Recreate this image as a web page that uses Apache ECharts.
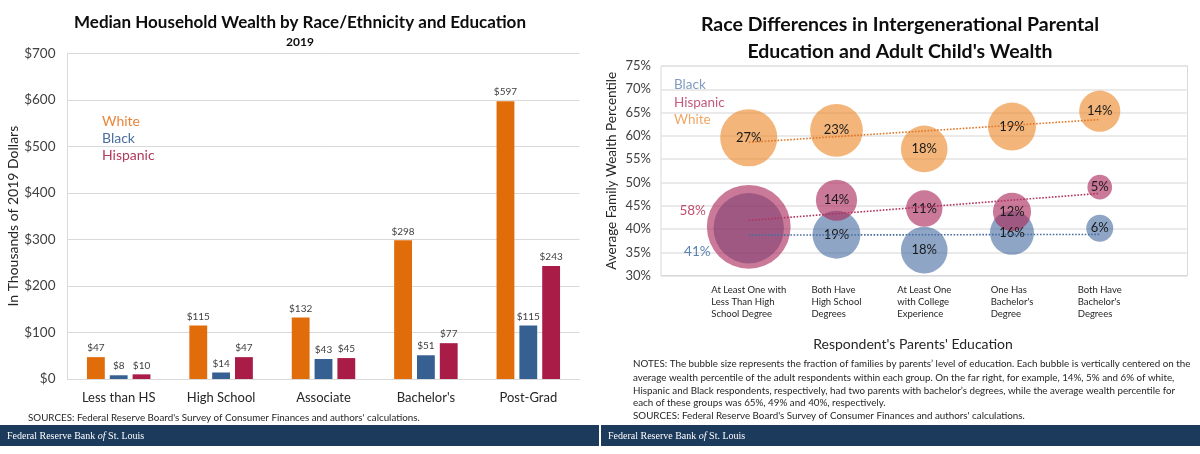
<!DOCTYPE html>
<html>
<head>
<meta charset="utf-8">
<title>Household wealth by race and education</title>
<script src="https://cdn.jsdelivr.net/npm/echarts@6/dist/echarts.min.js"></script>
<style>
  html, body { margin: 0; padding: 0; background: #fff; }
  #chart { width: 1200px; height: 454px; }
</style>
</head>
<body>
<div id="chart"></div>
<script>
// left panel: median household wealth, thousands of 2019 dollars
const eduLevels = ['Less than HS', 'High School', 'Associate', "Bachelor's", 'Post-Grad']
const wealthWhite = [47, 115, 132, 298, 597]
const wealthBlack = [8, 14, 43, 51, 115]
const wealthHispanic = [10, 47, 45, 77, 243]

// right panel: respondent's parents' education
const parentEdu = [
  'At Least One with\nLess Than High\nSchool Degree',
  'Both Have\nHigh School\nDegrees',
  'At Least One\nwith College\nExperience',
  "One Has\nBachelor's\nDegree",
  "Both Have\nBachelor's\nDegrees"
]
// average family wealth percentile (bubble centre)
const pctlBlack = [40.2, 38.8, 35.5, 39.2, 40.2]
const pctlHispanic = [40.5, 46.2, 44.4, 43.7, 49.0]
const pctlWhite = [59.6, 61.2, 57.2, 62.0, 65.3]
// share of families in each group, % (bubble size)
const shareBlack = [41, 19, 18, 16, 6]
const shareHispanic = [58, 14, 11, 12, 5]
const shareWhite = [27, 23, 18, 19, 14]

const notesLines = [
  "NOTES: The bubble size represents the fraction of families by parents\u2019 level of education. Each bubble is vertically centered on the",
  "average wealth percentile of the adult respondents within each group. On the far right, for example, 14%, 5% and 6% of white,",
  "Hispanic and Black respondents, respectively, had two parents with bachelor\u2019s degrees, while the average wealth percentile for",
  "each of these groups was 65%, 49% and 40%, respectively."
]
const sourcesText = "SOURCES: Federal Reserve Board's Survey of Consumer Finances and authors' calculations."

const FONT = 'Lato, "Noto Sans", sans-serif'
const chart = echarts.init(document.getElementById('chart'))

// bubble: [x position, percentile, share]
function bubbles(pctl, share) {
  return pctl.map((v, i) => [i + 1, v, share[i]])
}

// least squares line, as drawn by the original spreadsheet trendline
function trend(pctl) {
  const n = pctl.length
  const xs = pctl.map((v, i) => i + 1)
  const mx = xs.reduce((a, b) => a + b, 0) / n
  const my = pctl.reduce((a, b) => a + b, 0) / n
  let num = 0
  let den = 0
  xs.forEach((x, i) => {
    num += (x - mx) * (pctl[i] - my)
    den += (x - mx) * (x - mx)
  })
  const slope = num / den
  return [xs[0], xs[n - 1]].map(x => [x, my + slope * (x - mx)])
}

function text(x, y, str, size, color, extra) {
  return {
    type: 'text',
    x: x,
    y: y,
    style: Object.assign({
      text: str,
      fontFamily: FONT,
      fontSize: size,
      fill: color,
      align: 'left',
      textAlign: 'left',
      verticalAlign: 'middle',
      textVerticalAlign: 'middle'
    }, extra || {})
  }
}

function footer(x) {
  return [
    { type: 'rect', shape: { x: x, y: 425, width: 599, height: 21 }, style: { fill: '#1c3a5c' } },
    {
      type: 'text',
      x: x + 7,
      y: 436,
      style: {
        text: '{a|Federal Reserve Bank }{b|of}{a| St. Louis}',
        verticalAlign: 'middle',
        textVerticalAlign: 'middle',
        rich: {
          a: { fontFamily: '"Liberation Serif", serif', fontSize: 10, fill: '#fff', color: '#fff' },
          b: { fontFamily: '"Liberation Serif", serif', fontSize: 10, fontStyle: 'italic', fill: '#fff', color: '#fff' }
        }
      }
    }
  ]
}

const barLabel = {
  show: true,
  position: 'top',
  distance: 4,
  fontFamily: FONT,
  fontSize: 10,
  color: '#404040',
  formatter: p => '$' + p.value
}

const bubbleLabel = {
  show: true,
  position: 'inside',
  fontFamily: FONT,
  fontSize: 13,
  color: '#1a1a1a',
  formatter: p => p.value[2] + '%'
}

function bubbleSeries(name, pctl, share, color, firstLabel) {
  const data = bubbles(pctl, share).map((v, i) => {
    if (i === 0 && firstLabel) return { value: v, label: firstLabel }
    return { value: v }
  })
  return {
    name: name,
    type: 'scatter',
    xAxisIndex: 1,
    yAxisIndex: 1,
    z: 2,
    symbolSize: v => 11 * Math.sqrt(v[2]),
    itemStyle: { color: color, opacity: 1 },
    label: bubbleLabel,
    emphasis: { disabled: true },
    data: data
  }
}

function trendSeries(pctl, color) {
  return {
    type: 'line',
    xAxisIndex: 1,
    yAxisIndex: 1,
    z: 3,
    symbol: 'none',
    silent: true,
    lineStyle: { type: 'dotted', width: 1.6, color: color },
    data: trend(pctl)
  }
}

const graphics = [
  text(300, 22.5, 'Median Household Wealth by Race/Ethnicity and Education', 17, '#0d0d0d',
    { fontWeight: 'bold', align: 'center', textAlign: 'center' }),
  text(300, 42, '2019', 12, '#0d0d0d', { fontWeight: 'bold', align: 'center', textAlign: 'center' }),
  text(102, 121, 'White', 14, '#e8873a'),
  text(102, 138, 'Black', 14, '#4a6f9e'),
  text(102, 155, 'Hispanic', 14, '#b03a5e'),
  text(28, 418, sourcesText, 9.8, '#262626'),

  text(900, 25, 'Race Differences in Intergenerational Parental', 19.5, '#0d0d0d',
    { fontWeight: 'bold', align: 'center', textAlign: 'center' }),
  text(900, 52, "Education and Adult Child's Wealth", 19.5, '#0d0d0d',
    { fontWeight: 'bold', align: 'center', textAlign: 'center' }),
  text(674, 85, 'Black', 13.5, '#7f9bbf'),
  text(674, 102.3, 'Hispanic', 13.5, '#c25a80'),
  text(674, 119.3, 'White', 13.5, '#f0a868'),
  text(913, 344, "Respondent's Parents' Education", 14, '#262626', { align: 'center', textAlign: 'center' }),
  text(633, 364.3, notesLines[0], 9.8, '#262626'),
  text(633, 377.7, notesLines[1], 9.8, '#262626'),
  text(633, 390.7, notesLines[2], 9.8, '#262626'),
  text(633, 403.3, notesLines[3], 9.8, '#262626'),
  text(633, 416, sourcesText, 9.8, '#262626')
].concat(footer(0), footer(601))

const option = {
  animation: false,
  textStyle: { fontFamily: FONT },
  grid: [
    { left: 67.5, right: 620.5, top: 53.3, bottom: 75 },
    { left: 661, right: 12.5, top: 66, bottom: 178.3, show: true, borderColor: '#d9d9d9', borderWidth: 1 }
  ],
  xAxis: [
    {
      type: 'category',
      gridIndex: 0,
      data: eduLevels,
      axisLine: { lineStyle: { color: '#d9d9d9' } },
      axisTick: { show: false },
      axisLabel: { interval: 0, hideOverlap: false, fontFamily: FONT, fontSize: 13, color: '#262626', margin: 12 }
    },
    {
      // tick labels are placed below as left-aligned blocks
      type: 'value',
      gridIndex: 1,
      min: 0,
      max: 6,
      interval: 1,
      axisLine: { lineStyle: { color: '#d9d9d9' } },
      axisTick: { show: false },
      splitLine: { show: false },
      axisLabel: { show: false }
    }
  ],
  yAxis: [
    {
      type: 'value',
      gridIndex: 0,
      min: 0,
      max: 700,
      interval: 100,
      name: 'In Thousands of 2019 Dollars',
      nameLocation: 'middle',
      nameGap: 46,
      nameTextStyle: { fontFamily: FONT, fontSize: 14, color: '#262626' },
      axisLine: { show: true, lineStyle: { color: '#d9d9d9' } },
      axisTick: { show: false },
      splitLine: { lineStyle: { color: '#d9d9d9' } },
      axisLabel: { fontFamily: FONT, fontSize: 13.5, color: '#404040', margin: 12, formatter: v => '$' + v }
    },
    {
      type: 'value',
      gridIndex: 1,
      min: 30,
      max: 75,
      interval: 5,
      name: 'Average Family Wealth Percentile',
      nameLocation: 'middle',
      nameGap: 42,
      nameTextStyle: { fontFamily: FONT, fontSize: 13.5, color: '#262626' },
      axisLine: { show: false },
      axisTick: { show: false },
      splitLine: { lineStyle: { color: '#e3e3e3', width: 1.5 } },
      axisLabel: { fontFamily: FONT, fontSize: 13, color: '#404040', margin: 10, formatter: v => v + '%' }
    }
  ],
  series: [
    {
      name: 'White', type: 'bar', xAxisIndex: 0, yAxisIndex: 0,
      barGap: '28%', barCategoryGap: '38%',
      itemStyle: { color: '#e06c0a' }, label: barLabel, data: wealthWhite
    },
    {
      name: 'Black', type: 'bar', xAxisIndex: 0, yAxisIndex: 0,
      itemStyle: { color: '#376092' }, label: barLabel, data: wealthBlack
    },
    {
      name: 'Hispanic', type: 'bar', xAxisIndex: 0, yAxisIndex: 0,
      itemStyle: { color: '#a81c47' }, label: barLabel, data: wealthHispanic
    },
    bubbleSeries('Black', pctlBlack, shareBlack, 'rgba(60,100,155,0.58)',
      { position: 'left', distance: 3, offset: [0, 23], color: '#5b82b0', fontSize: 13.5 }),
    bubbleSeries('Hispanic', pctlHispanic, shareHispanic, 'rgba(170,40,88,0.62)',
      { position: 'left', distance: 1, offset: [0, -16], color: '#c0506f', fontSize: 13.5 }),
    bubbleSeries('White', pctlWhite, shareWhite, 'rgba(236,135,40,0.62)'),
    trendSeries(pctlBlack, '#4a6ea0'),
    trendSeries(pctlHispanic, '#b03462'),
    trendSeries(pctlWhite, '#e0782a')
  ],
  graphic: graphics
}

chart.setOption(option)

// right panel tick labels: each block centred on its tick, lines left-aligned
const labelSize = 9.5
const ctx = document.createElement('canvas').getContext('2d')
ctx.font = labelSize + 'px Lato'
const tickY = chart.convertToPixel({ yAxisIndex: 1 }, 30)
const tickLabels = parentEdu.map((s, i) => {
  const cx = chart.convertToPixel({ xAxisIndex: 1 }, i + 1)
  const w = Math.max.apply(null, s.split('\n').map(l => ctx.measureText(l).width))
  return text(cx - w / 2, tickY + 8, s, labelSize, '#262626',
    { verticalAlign: 'top', textVerticalAlign: 'top', lineHeight: 12 })
})
chart.setOption({ graphic: graphics.concat(tickLabels) })

window.addEventListener('resize', () => chart.resize())
</script>
</body>
</html>
